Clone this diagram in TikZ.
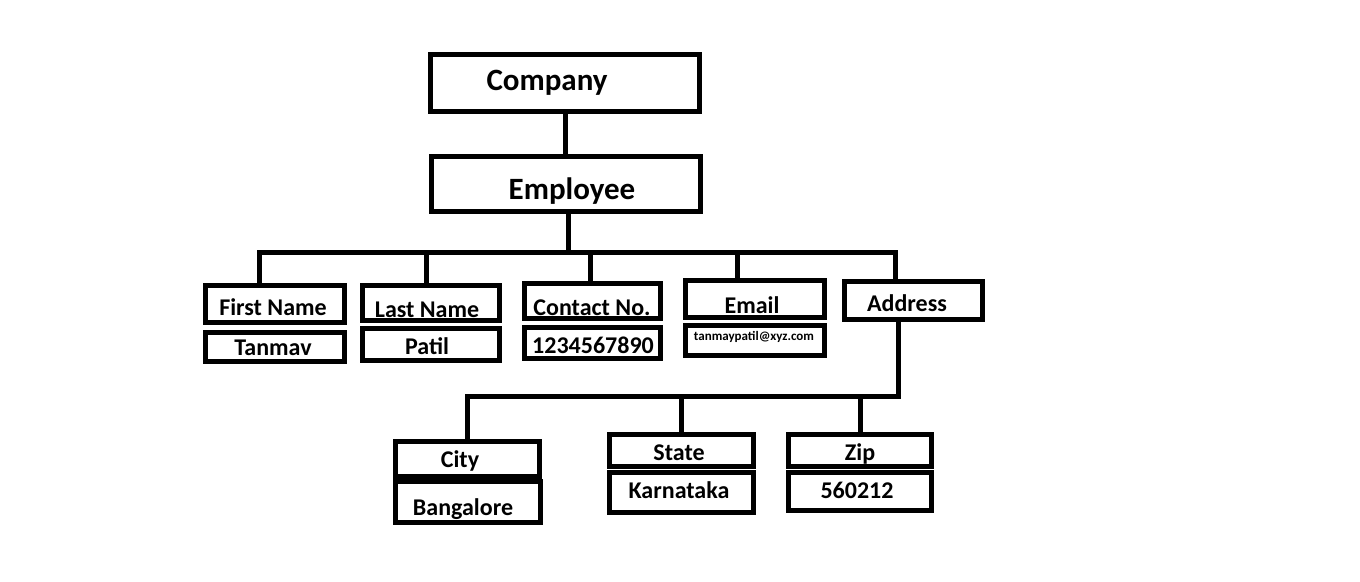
\documentclass[tikz,border=0pt]{standalone}
\usepackage{fontspec}
\setmainfont{Carlito}
\usepackage{tikz}

\begin{document}
\begin{tikzpicture}[x=1pt,y=-1pt,
  box/.style={draw, line width=5pt, inner sep=0pt},
  link/.style={line width=5pt},
  big/.style={anchor=base, font=\fontsize{31}{36}\selectfont\bfseries},
  lbl/.style={anchor=base, font=\fontsize{24}{28}\selectfont\bfseries},
  note/.style={anchor=base, font=\fontsize{13}{15}\selectfont\bfseries}]
\useasboundingbox[fill=white] (0,0) rectangle (1360,581);
% top
\node[box, minimum width=269pt, minimum height=57pt] (company) at (565,83) {};
\node[big] (companytxt) at (547,90) {Company};
\node[box, minimum width=269pt, minimum height=55pt] (employee) at (566,184) {};
\node[big] (employeetxt) at (572,199) {Employee};
% employee fields
\node[box, minimum width=139pt, minimum height=37pt] (firstname) at (275,304) {};
\node[lbl] (firstnametxt) at (273,315) {First Name};
\node[box, minimum width=139pt, minimum height=29pt] (firstval) at (275,347) {};
\node[lbl] (firstvaltxt) at (273,355) {Tanmav};
\node[box, minimum width=137pt, minimum height=35pt] (lastname) at (431,303) {};
\node[lbl] (lastnametxt) at (427,317) {Last Name};
\node[box, minimum width=137pt, minimum height=32pt] (lastval) at (431,344.5) {};
\node[lbl] (lastvaltxt) at (427,354) {Patil};
\node[box, minimum width=136pt, minimum height=35pt] (contact) at (592.5,301) {};
\node[lbl] (contacttxt) at (592,315) {Contact No.};
\node[box, minimum width=136pt, minimum height=31pt] (contactval) at (592.5,343) {};
\node[lbl] (contactvaltxt) at (593,353.5) {1234567890};
\node[box, minimum width=139pt, minimum height=37pt] (email) at (755,299) {};
\node[lbl] (emailtxt) at (752,313) {Email};
\node[box, minimum width=139pt, minimum height=30pt] (emailval) at (755,340.5) {};
\node[note] (emailvaltxt) at (754,340) {tanmaypatil@xyz.com};
\node[box, minimum width=138pt, minimum height=38pt] (address) at (913.5,300.5) {};
\node[lbl] (addresstxt) at (907,311) {Address};
% address fields
\node[box, minimum width=144pt, minimum height=35pt] (city) at (467.5,459) {};
\node[lbl] (citytxt) at (460,467) {City};
\node[box, minimum width=145pt, minimum height=41pt] (cityval) at (468,502) {};
\node[lbl] (cityvaltxt) at (463,515) {Bangalore};
\node[box, minimum width=144pt, minimum height=32pt] (state) at (681.5,450.5) {};
\node[lbl] (statetxt) at (679,460) {State};
\node[box, minimum width=144pt, minimum height=40pt] (stateval) at (681.5,492.5) {};
\node[lbl] (statevaltxt) at (679,498) {Karnataka};
\node[box, minimum width=143pt, minimum height=32pt] (zip) at (860,450.5) {};
\node[lbl] (ziptxt) at (860,460) {Zip};
\node[box, minimum width=143pt, minimum height=38pt] (zipval) at (860,491.5) {};
\node[lbl] (zipvaltxt) at (857,498) {560212};
% connectors
\coordinate (hub) at (568,252);
\coordinate (split) at (898,396);
\draw[link] (company.south) -- (company.south |- employee.north);
\draw[link] ([xshift=2pt]employee.south) -- (hub);
\draw[link] ([xshift=-16pt]firstname.north) |- (hub) -| ([xshift=-18.5pt]address.north);
\foreach \n/\s in {lastname/-5, contact/-2.5, email/-18}
  \draw[link] ([xshift=\s pt]\n.north) -- ([xshift=\s pt]\n.north |- hub);
\draw[link] ([xshift=-15.5pt]address.south) -- (split) -| (city.north);
\draw[link] (state.north) -- (state.north |- split);
\draw[link] (zip.north) -- (zip.north |- split);
\end{tikzpicture}
\end{document}
